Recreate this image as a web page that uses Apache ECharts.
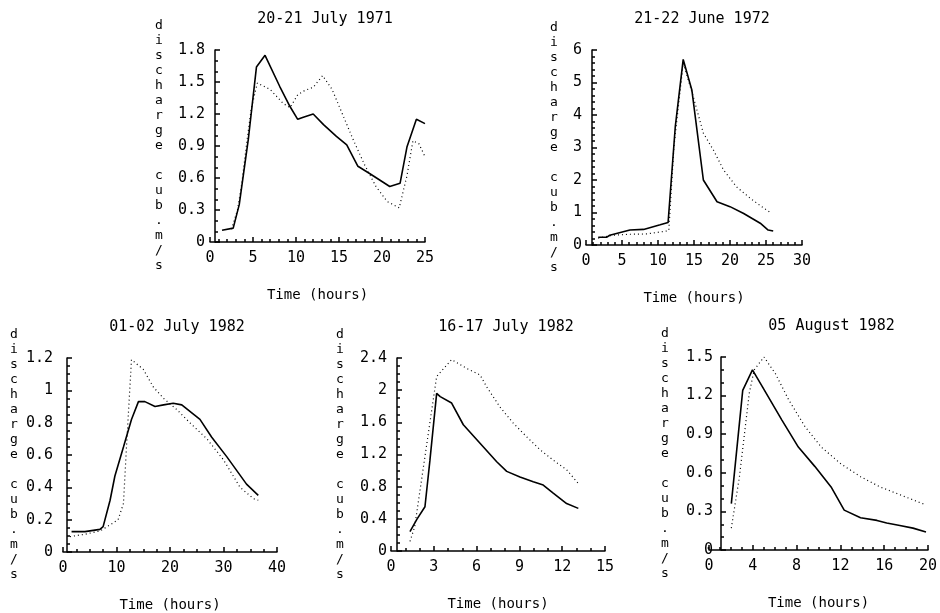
<!DOCTYPE html>
<html>
<head>
<meta charset="utf-8">
<title>discharge hydrographs</title>
<script src="https://cdn.jsdelivr.net/npm/echarts@6/dist/echarts.min.js"></script>
<style>
  html, body { margin: 0; padding: 0; background: #fff; }
  #main { width: 940px; height: 613px; }
</style>
</head>
<body>
<div id="main"></div>
<script>
// panel titles
var titles = ['20-21 July 1971', '21-22 June 1972', '01-02 July 1982', '16-17 July 1982', '05 August 1982'];

// axis ranges / tick steps per panel
var xMax  = [25, 30, 40, 15, 20];
var xStep = [5, 5, 10, 3, 4];
var yMax  = [1.8, 6, 1.2, 2.4, 1.5];
var yStep = [0.3, 1, 0.2, 0.4, 0.3];

// 20-21 July 1971 (solid = observed, dotted = simulated)
var t71Obs = [1.4, 2.7, 3.4, 4.45, 5.4, 6.4, 8.1, 9.3, 10.2, 10.85, 12.0, 13.2, 14.7, 15.9, 17.2, 18.6, 20.9, 22.1, 22.9, 24.0, 25.0];
var q71Obs = [0.11, 0.13, 0.35, 0.96, 1.64, 1.75, 1.46, 1.27, 1.15, 1.17, 1.20, 1.10, 0.99, 0.91, 0.71, 0.64, 0.52, 0.55, 0.89, 1.15, 1.11];
var t71Sim = [2.5, 3.2, 3.7, 4.3, 4.8, 5.5, 7.0, 8.5, 9.3, 10.2, 11.0, 12.0, 13.1, 14.2, 15.5, 16.7, 18.0, 19.3, 20.6, 22.0, 22.9, 23.6, 24.3, 25.0];
var q71Sim = [0.12, 0.30, 0.55, 0.95, 1.25, 1.49, 1.43, 1.30, 1.26, 1.38, 1.42, 1.45, 1.56, 1.43, 1.18, 0.95, 0.72, 0.52, 0.38, 0.32, 0.62, 0.95, 0.92, 0.80];

// 21-22 June 1972
var t72Obs = [1.7, 2.9, 3.3, 6.1, 8.0, 10.3, 11.4, 12.4, 13.5, 14.7, 16.3, 18.2, 20.0, 21.9, 24.2, 25.3, 26.0];
var q72Obs = [0.24, 0.24, 0.30, 0.46, 0.48, 0.62, 0.69, 3.64, 5.71, 4.77, 2.0, 1.33, 1.18, 0.97, 0.67, 0.46, 0.43];
var t72Sim = [1.7, 3.7, 6.1, 8.4, 11.5, 12.2, 13.5, 14.9, 15.6, 16.3, 17.7, 19.1, 20.9, 22.8, 24.4, 25.8];
var q72Sim = [0.21, 0.30, 0.33, 0.34, 0.44, 3.0, 5.6, 4.56, 4.0, 3.44, 2.92, 2.31, 1.79, 1.44, 1.18, 0.97];

// 01-02 July 1982
var t82aObs = [1.6, 4.1, 4.4, 6.9, 7.5, 8.8, 9.7, 11.3, 12.8, 14.1, 15.3, 17.2, 18.8, 20.6, 22.2, 25.6, 27.8, 30.6, 34.3, 36.5];
var q82aObs = [0.126, 0.126, 0.136, 0.14, 0.157, 0.32, 0.47, 0.65, 0.82, 0.93, 0.93, 0.90, 0.91, 0.92, 0.91, 0.82, 0.71, 0.59, 0.42, 0.35];
var t82aSim = [1.3, 4.1, 6.9, 9.4, 10.3, 11.3, 11.9, 12.8, 15.0, 16.9, 18.8, 21.3, 23.7, 26.9, 30.0, 33.1, 35.6, 36.5];
var q82aSim = [0.095, 0.11, 0.13, 0.18, 0.20, 0.30, 0.67, 1.19, 1.13, 1.02, 0.95, 0.88, 0.80, 0.70, 0.57, 0.40, 0.33, 0.32];

// 16-17 July 1982
var t82bObs = [1.33, 1.8, 2.38, 2.73, 3.2, 3.45, 4.25, 5.07, 6.24, 7.41, 8.11, 9.04, 9.97, 10.67, 11.37, 12.31, 13.13];
var q82bObs = [0.24, 0.39, 0.55, 1.13, 1.96, 1.92, 1.84, 1.57, 1.34, 1.11, 0.99, 0.92, 0.86, 0.82, 0.72, 0.59, 0.53];
var t82bSim = [1.33, 1.66, 3.2, 4.25, 5.3, 6.24, 6.71, 7.64, 8.57, 9.51, 10.44, 11.37, 12.31, 13.13];
var q82bSim = [0.12, 0.30, 2.17, 2.38, 2.27, 2.19, 2.04, 1.79, 1.59, 1.42, 1.26, 1.13, 1.01, 0.84];

// 05 August 1982
var t82cObs = [2.04, 3.08, 3.97, 4.87, 6.66, 8.16, 9.66, 11.15, 12.35, 13.84, 15.34, 16.23, 17.43, 18.63, 19.82];
var q82cObs = [0.36, 1.24, 1.40, 1.27, 1.01, 0.80, 0.65, 0.49, 0.31, 0.25, 0.23, 0.21, 0.19, 0.17, 0.14];
var t82cSim = [2.04, 2.78, 3.68, 4.13, 5.02, 6.07, 7.26, 8.76, 10.25, 12.04, 13.84, 15.63, 17.43, 19.82];
var q82cSim = [0.17, 0.57, 1.22, 1.40, 1.50, 1.37, 1.17, 0.96, 0.80, 0.67, 0.57, 0.49, 0.43, 0.35];

var obs = [[t71Obs, q71Obs], [t72Obs, q72Obs], [t82aObs, q82aObs], [t82bObs, q82bObs], [t82cObs, q82cObs]];
var sim = [[t71Sim, q71Sim], [t72Sim, q72Sim], [t82aSim, q82aSim], [t82bSim, q82bSim], [t82cSim, q82cSim]];

// layout (px): grid box, y-axis shift, gap of the vertical name
var layout = [
  {left: 210, top: 50,  width: 215, height: 192, shift: -5, nameGap: 56, labelMargin: 10, xMinor: 5, yMinor: 3},
  {left: 586, top: 50,  width: 216, height: 195, shift: -6, nameGap: 38, labelMargin: 10, xMinor: 5, yMinor: 5},
  {left: 63,  top: 358, width: 214, height: 194, shift: -4, nameGap: 53, labelMargin: 14, xMinor: 4, yMinor: 4},
  {left: 391, top: 358, width: 214, height: 193, shift: -6, nameGap: 57, labelMargin: 10, xMinor: 3, yMinor: 4},
  {left: 709, top: 357, width: 223, height: 193, shift: -12, nameGap: 56, labelMargin: 8, xMinor: 4, yMinor: 3}
];

var FONT = 'DejaVu Sans Mono';
var vName = 'discharge cub.m/s'.split('').join('\n');

function zip(a, b) {
  return a.map(function (v, i) { return [v, b[i]]; });
}

var grids = [], xAxes = [], yAxes = [], series = [], titleList = [];

layout.forEach(function (p, i) {
  grids.push({left: p.left, top: p.top, width: p.width, height: p.height});
  titleList.push({
    text: titles[i],
    left: p.left + p.width / 2 - p.shift / 2,
    top: p.top - 43,
    textAlign: 'center',
    textStyle: {fontFamily: FONT, fontSize: 15, fontWeight: 'normal', color: '#000'}
  });
  xAxes.push({
    type: 'value', gridIndex: i, min: 0, max: xMax[i], interval: xStep[i],
    name: 'Time (hours)', nameLocation: 'middle', nameGap: 46,
    nameTextStyle: {fontFamily: FONT, fontSize: 14, color: '#000'},
    axisLine: {show: true, lineStyle: {color: '#000', width: 1.5}},
    axisTick: {show: true, inside: true, length: 5, lineStyle: {color: '#000', width: 1.5}},
    minorTick: {show: true, splitNumber: p.xMinor, length: 3, lineStyle: {color: '#000', width: 1.5}},
    splitLine: {show: false},
    minorSplitLine: {show: false},
    axisLabel: {fontFamily: FONT, fontSize: 15, color: '#000', margin: 9}
  });
  yAxes.push({
    type: 'value', gridIndex: i, min: 0, max: yMax[i], interval: yStep[i],
    offset: p.shift,
    name: vName, nameLocation: 'middle', nameGap: p.nameGap, nameRotate: 0,
    nameTextStyle: {fontFamily: FONT, fontSize: 13, color: '#000', lineHeight: 15,
      align: 'center', verticalAlign: 'middle'},
    axisLine: {show: true, lineStyle: {color: '#000', width: 1.5}},
    axisTick: {show: true, inside: true, length: 5, lineStyle: {color: '#000', width: 1.5}},
    minorTick: {show: true, splitNumber: p.yMinor, length: 3, lineStyle: {color: '#000', width: 1.5}},
    splitLine: {show: false},
    minorSplitLine: {show: false},
    axisLabel: {fontFamily: FONT, fontSize: 15, color: '#000', margin: p.labelMargin}
  });
  series.push({
    name: 'observed', type: 'line', xAxisIndex: i, yAxisIndex: i,
    data: zip(obs[i][0], obs[i][1]), showSymbol: false,
    lineStyle: {color: '#000', width: 1.6}
  });
  series.push({
    name: 'simulated', type: 'line', xAxisIndex: i, yAxisIndex: i,
    data: zip(sim[i][0], sim[i][1]), showSymbol: false,
    lineStyle: {color: '#000', width: 1.2, type: [1, 3]}
  });
});

var myChart = echarts.init(document.getElementById('main'));
myChart.setOption({
  animation: false,
  backgroundColor: '#fff',
  title: titleList,
  grid: grids,
  xAxis: xAxes,
  yAxis: yAxes,
  series: series
});
</script>
</body>
</html>
